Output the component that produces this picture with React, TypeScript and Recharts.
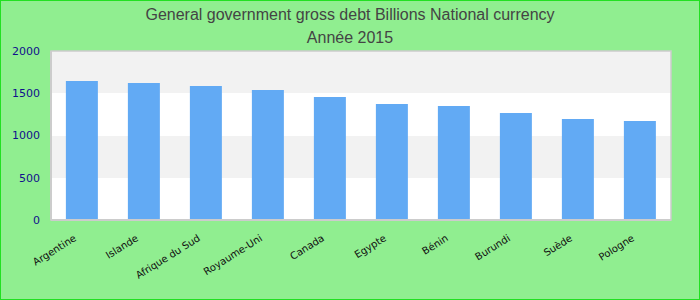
import React from 'react'
import {
  BarChart,
  Bar,
  XAxis,
  YAxis,
  CartesianGrid,
  ReferenceArea,
} from 'recharts'

const countries = [
  'Argentine',
  'Islande',
  'Afrique du Sud',
  'Royaume-Uni',
  'Canada',
  'Egypte',
  'Bénin',
  'Burundi',
  'Suède',
  'Pologne',
]
const debt = [1645, 1621, 1586, 1538, 1456, 1373, 1349, 1266, 1195, 1172]
const yTicks = [0, 500, 1000, 1500, 2000]

const data = countries.map((name, i) => ({ name, value: debt[i] }))

function CountryTick(props: any) {
  const { x, y, payload } = props
  return (
    <g transform={`translate(${x},${y})`}>
      <text
        x={-5}
        y={12}
        textAnchor="end"
        transform="rotate(-32 -5 12)"
        fill="#111"
        fontSize={10}
        fontFamily="DejaVu Sans"
      >
        {payload.value}
      </text>
    </g>
  )
}

export default function App() {
  return (
    <div
      style={{
        position: 'absolute',
        left: 0,
        top: 0,
        width: 700,
        height: 300,
        boxSizing: 'border-box',
        border: '1px solid #22e022',
        background: '#90ee90',
        fontFamily: '"Liberation Sans", Arial, sans-serif',
      }}
    >
      <div
        style={{
          position: 'absolute',
          left: 0,
          top: 2,
          width: 698,
          textAlign: 'center',
          color: '#444',
          fontSize: 16,
          lineHeight: '23px',
        }}
      >
        <div>General government gross debt Billions National currency</div>
        <div>Année 2015</div>
      </div>
      <BarChart
        width={698}
        height={298}
        data={data}
        margin={{ top: 50, right: 28, left: 0, bottom: 0 }}
        barCategoryGap="24%"
      >
        <CartesianGrid
          vertical={false}
          stroke="none"
          horizontalFill={['#f2f2f2', '#ffffff']}
          fillOpacity={1}
        />
        <ReferenceArea y1={0} y2={2000} fill="none" stroke="#cccccc" strokeWidth={1.5} />
        <XAxis
          dataKey="name"
          height={79}
          interval={0}
          axisLine={{ stroke: '#cccccc', strokeWidth: 2 }}
          tickLine={false}
          tick={<CountryTick />}
        />
        <YAxis
          width={50}
          domain={[0, 2000]}
          ticks={yTicks}
          axisLine={{ stroke: '#cccccc', strokeWidth: 2 }}
          tickLine={false}
          tickMargin={5}
          tick={{ fill: '#10108c', fontSize: 11, fontFamily: 'DejaVu Sans' }}
        />
        <Bar dataKey="value" fill="#62aaf4" isAnimationActive={false} />
      </BarChart>
    </div>
  )
}
